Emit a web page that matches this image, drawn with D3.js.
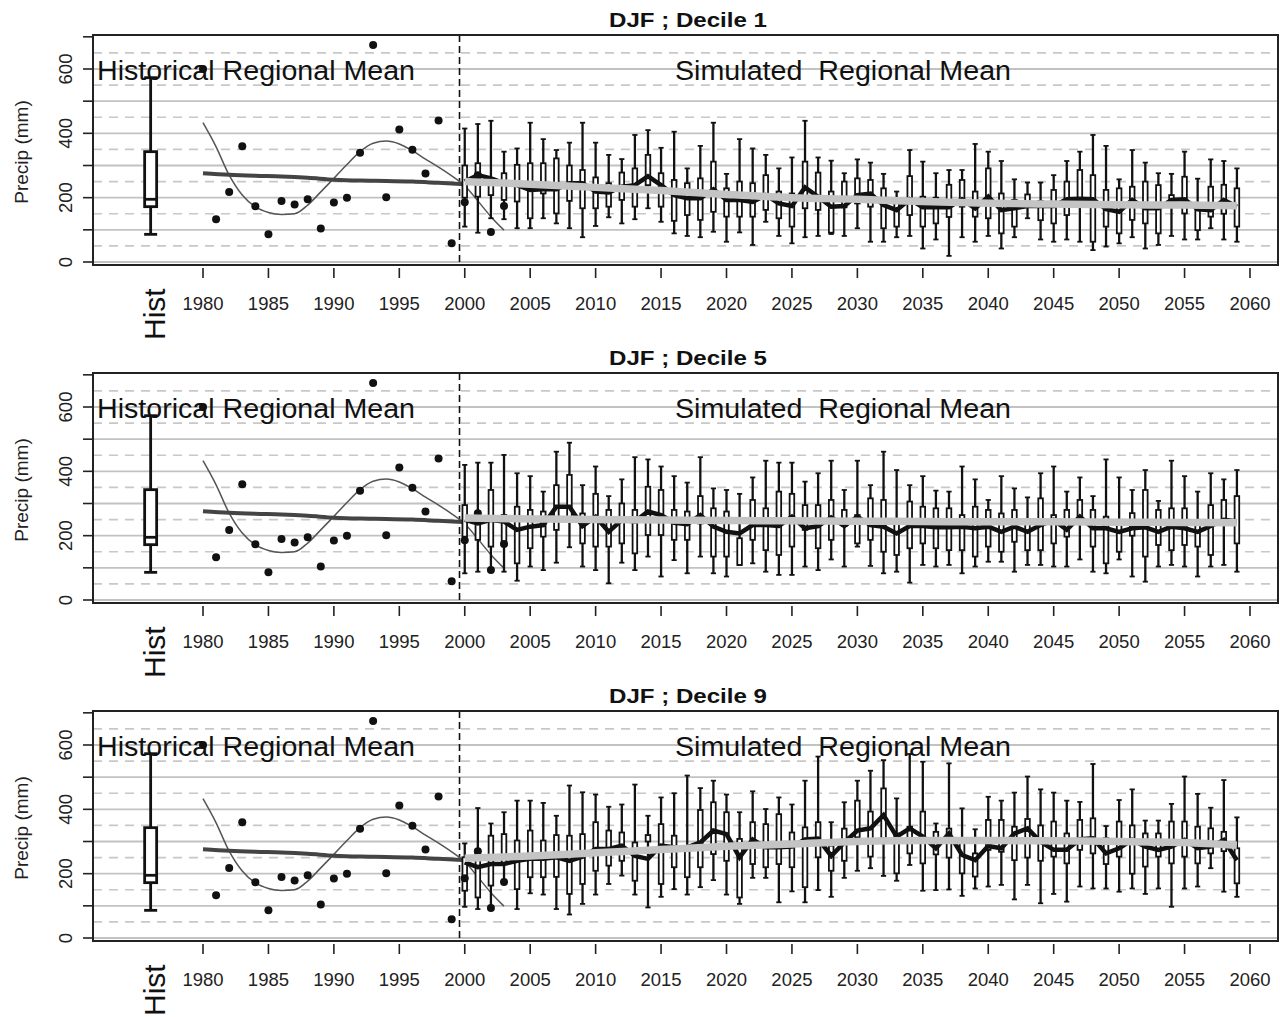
<!DOCTYPE html>
<html>
<head>
<meta charset="utf-8">
<script src="https://cdn.jsdelivr.net/npm/d3@7"></script>
<style>
body { margin: 0; background: #fff; }
svg { display: block; font-family: "Liberation Sans", Arial, sans-serif; }
</style>
</head>
<body>
<div id="chart"></div>
<script>
// historical observations (same station record in every panel)
const histYears = d3.range(1980, 2004);
const histObs = [600,133,218,360,173,86,190,179,195,104,185,200,340,675,201,412,349,275,440,58,186,270,93,174];
const histLowess = [433,358,270,208,171,154,148,150,177,218,260,303,343,369,376,367,346,320,295,268,237,190,141,99];
const histMeanYears = [1980,1982,1984,1986,1988,1990,1992,1994,1996,1998,2000];
const histMean = [276,271,268,266,262,256,253,252,250,246,242];
const histBox = { min: 86, q1: 172, med: 195, q3: 343, max: 573 };

// simulated years, one box per year
const simYears = d3.range(2000, 2060);
const smoothYears = [2000,2005,2010,2015,2020,2025,2030,2035,2040,2045,2050,2055,2059];

// Decile 1
const d1Max = [415,429,439,343,353,433,382,348,371,433, 371,333,320,395,410,355,405,291,361,433,
               274,382,353,333,291,325,439,325,315,276, 319,309,274,219,348,312,276,286,286,367,
               343,314,257,247,247,270,314,343,395,361, 257,348,309,276,274,343,259,319,314,291];
const d1Q3  = [300,307,250,276,302,307,307,322,300,286, 263,245,278,291,333,276,255,245,260,312,
               229,250,245,270,219,213,312,278,219,250, 260,255,229,195,267,203,200,240,255,219,
               291,213,193,210,190,224,250,286,270,224, 229,234,250,239,208,265,167,234,240,229];
const d1Q1  = [200,203,208,193,188,136,213,151,190,167, 167,172,193,172,239,172,128,146,131,156,
               141,141,141,162,136,110,167,162,91,170,  182,172,105,110,146,110,120,140,172,141,
               136,89,110,175,130,120,146,172,63,110,   89,131,120,89,172,151,99,141,150,110];
const d1Min = [110,91,136,133,105,105,136,120,105,77,   112,139,120,133,167,125,89,81,77,94,
               63,92,53,125,81,58,77,81,87,81,          105,63,63,77,81,42,70,19,77,63,
               81,42,77,136,70,63,70,63,37,48,          58,77,42,53,81,70,70,105,70,63];
const d1Mean = [250,270,260,245,239,224,226,226,245,245, 219,216,234,239,267,239,208,198,198,226,
                193,193,187,208,182,174,232,203,172,174, 208,213,177,161,195,170,170,170,195,167,
                203,161,167,174,174,174,195,197,195,164, 156,193,167,167,193,195,164,161,193,172];
const d1Smooth = [250,242,232,222,210,200,195,188,183,180,178,177,175];

// Decile 5
const d5Max = [420,427,427,451,394,385,337,461,489,357, 415,323,375,444,437,415,385,365,444,347,
               342,330,381,433,427,427,368,394,433,342, 433,357,461,404,357,385,340,337,415,375,
               311,385,347,319,394,415,337,381,323,437, 381,342,404,308,433,385,337,394,375,404];
const d5Q3  = [295,264,342,264,290,280,275,357,389,269, 330,280,300,280,352,342,280,275,323,285,
               275,192,311,285,337,330,295,295,311,280, 264,316,311,249,306,290,285,285,264,290,
               280,269,280,249,316,264,280,311,280,259, 244,270,342,280,285,285,249,295,311,323];
const d5Q1  = [197,187,166,171,114,161,197,218,249,176, 166,166,176,145,202,202,187,187,238,135,
               135,109,187,155,140,166,218,161,187,230, 176,187,150,140,161,176,161,155,155,135,
               166,150,181,155,155,176,197,249,166,114, 150,200,135,171,155,171,166,140,249,176];
const d5Min = [83,88,88,88,60,104,93,116,164,104,       93,52,116,93,135,73,124,83,135,83,
               73,109,114,88,78,78,104,93,126,104,      166,106,83,88,54,109,104,109,83,104,
               119,119,88,109,109,104,104,126,88,83,    126,73,57,104,109,104,73,104,109,88];
const d5Mean = [249,238,249,244,218,228,233,290,290,230, 259,212,249,244,275,264,240,236,264,228,
                212,207,233,233,230,259,223,230,257,230, 259,233,228,207,230,230,226,226,228,223,
                228,212,228,212,233,249,218,259,223,223, 212,223,226,212,228,223,212,230,249,244];
const d5Smooth = [255,252,250,249,247,246,245,244,243,243,242,241,240];

// Decile 9
const d9Max = [294,404,356,391,427,427,420,380,474,453, 446,408,415,477,380,437,450,505,466,489,
               446,391,456,401,437,415,489,564,360,422, 489,520,553,434,572,548,356,543,403,338,
               439,427,452,502,462,452,427,423,541,348, 429,462,365,365,417,502,448,405,491,375];
const d9Q3  = [251,272,318,323,303,334,303,320,318,323, 360,334,328,297,320,354,318,272,398,422,
               391,308,360,354,385,328,344,360,287,340, 427,393,465,325,346,393,330,340,305,263,
               367,367,346,370,350,362,325,367,372,310, 362,350,325,325,362,362,346,341,330,279];
const d9Q1  = [147,126,163,230,152,189,189,190,137,168, 209,225,240,178,300,168,220,189,220,261,
               240,126,230,220,230,220,158,251,209,240, 313,253,310,201,263,232,260,250,201,191,
               274,268,242,250,240,253,232,274,263,230, 253,200,222,253,232,253,232,263,270,170];
const d9Min = [97,90,95,173,90,139,135,90,73,106,       135,168,194,135,95,128,152,135,158,180,
               135,106,187,187,111,145,111,149,128,187, 209,217,193,178,227,147,149,151,131,154,
               160,165,120,165,108,137,113,160,154,154, 144,154,137,154,97,154,160,217,144,128];
const d9Mean = [235,220,230,230,240,246,246,251,240,253, 277,277,287,255,246,287,282,282,297,334,
                323,251,306,282,282,284,306,309,255,297, 334,341,382,315,341,315,279,325,258,242,
                286,279,325,341,299,274,274,307,310,263, 279,305,284,274,284,305,279,284,305,242];
const d9Smooth = [248,255,265,275,285,292,300,303,303,302,300,297,288];

const panelTitles = ["DJF ; Decile 1", "DJF ; Decile 5", "DJF ; Decile 9"];
const xTicks = d3.range(1980, 2061, 5);
const yTicks = d3.range(0, 701, 100);
const yLabels = [0, 200, 400, 600];
const solidGrid = d3.range(0, 601, 100);
const dashGrid = d3.range(50, 651, 100);

const width = 1280, height = 1017;
const frameL = 93, frameR = 1278;
const panelStep = 338;

const svg = d3.select("#chart").append("svg").attr("width", width).attr("height", height);
const x = d3.scaleLinear().domain([1980, 2060]).range([203, 1250]);

function drawPanel(p, sim){
    const off = p * panelStep;
    const y = d3.scaleLinear().domain([0, 600]).range([262 + off, 69 + off]);
    const top = 35 + off, bottom = 265 + off;
    const g = svg.append("g");

    // grid
    g.selectAll(".gs").data(solidGrid).join("line")
        .attr("x1", frameL).attr("x2", frameR).attr("y1", d => y(d)).attr("y2", d => y(d))
        .attr("stroke", "#c2c2c2").attr("stroke-width", 1.8);
    g.selectAll(".gd").data(dashGrid).join("line")
        .attr("x1", frameL).attr("x2", frameR).attr("y1", d => y(d)).attr("y2", d => y(d))
        .attr("stroke", "#c8c8c8").attr("stroke-width", 1.6).attr("stroke-dasharray", "9,7");

    // split line between observed and simulated
    g.append("line").attr("x1", x(1999.6)).attr("x2", x(1999.6)).attr("y1", top).attr("y2", bottom)
        .attr("stroke", "#111").attr("stroke-width", 1.6).attr("stroke-dasharray", "7,4");

    // labels inside plot
    g.append("text").attr("x", 97).attr("y", 80 + off).attr("font-size", 27).attr("fill", "#111")
        .attr("textLength", 318).attr("lengthAdjust", "spacingAndGlyphs")
        .text("Historical Regional Mean");
    g.append("text").attr("x", 675).attr("y", 80 + off).attr("font-size", 27).attr("fill", "#111")
        .attr("xml:space", "preserve").attr("textLength", 336).attr("lengthAdjust", "spacingAndGlyphs")
        .text("Simulated  Regional Mean");

    // hist boxplot
    const hx = x(1976);
    const hb = g.append("g").attr("stroke", "#111").attr("stroke-width", 2.8).attr("fill", "none");
    hb.append("line").attr("x1", hx).attr("x2", hx).attr("y1", y(histBox.max)).attr("y2", y(histBox.min));
    hb.append("line").attr("x1", hx - 6.5).attr("x2", hx + 6.5).attr("y1", y(histBox.max)).attr("y2", y(histBox.max));
    hb.append("line").attr("x1", hx - 6.5).attr("x2", hx + 6.5).attr("y1", y(histBox.min)).attr("y2", y(histBox.min));
    hb.append("rect").attr("x", hx - 6).attr("width", 12).attr("y", y(histBox.q3))
        .attr("height", y(histBox.q1) - y(histBox.q3)).attr("fill", "#fff");
    hb.append("line").attr("x1", hx - 6).attr("x2", hx + 6).attr("y1", y(histBox.med)).attr("y2", y(histBox.med));

    // historical smooth and mean lines
    g.append("path").datum(histYears.map((d, i) => [d, histLowess[i]]))
        .attr("d", d3.line().x(d => x(d[0])).y(d => y(d[1])).curve(d3.curveMonotoneX))
        .attr("fill", "none").attr("stroke", "#555").attr("stroke-width", 1.5);
    g.append("path").datum(histMeanYears.map((d, i) => [d, histMean[i]]))
        .attr("d", d3.line().x(d => x(d[0])).y(d => y(d[1])).curve(d3.curveMonotoneX))
        .attr("fill", "none").attr("stroke", "#444").attr("stroke-width", 4);

    // simulated boxplots
    const bw = 2.3;
    const bx = g.append("g").attr("stroke", "#111").attr("stroke-width", 1.8);
    simYears.forEach((yr, i) => {
        const cx = x(yr);
        bx.append("line").attr("x1", cx).attr("x2", cx).attr("y1", y(sim.max[i])).attr("y2", y(sim.min[i]))
            .attr("stroke-width", 2.3);
        bx.append("line").attr("x1", cx - 2.6).attr("x2", cx + 2.6).attr("y1", y(sim.max[i])).attr("y2", y(sim.max[i]));
        bx.append("line").attr("x1", cx - 2.6).attr("x2", cx + 2.6).attr("y1", y(sim.min[i])).attr("y2", y(sim.min[i]));
        bx.append("rect").attr("x", cx - bw).attr("width", bw * 2).attr("y", y(sim.q3[i]))
            .attr("height", y(sim.q1[i]) - y(sim.q3[i])).attr("fill", "#fff");
    });

    // observed points
    g.selectAll(".pt").data(histYears).join("circle")
        .attr("cx", d => x(d)).attr("cy", (d, i) => y(histObs[i])).attr("r", 4).attr("fill", "#111");

    // simulated annual mean and its smooth
    g.append("path").datum(simYears.map((d, i) => [d, sim.mean[i]]))
        .attr("d", d3.line().x(d => x(d[0])).y(d => y(d[1])))
        .attr("fill", "none").attr("stroke", "#111").attr("stroke-width", 4.5).attr("stroke-linejoin", "miter");
    g.append("path").datum(smoothYears.map((d, i) => [d, sim.smooth[i]]))
        .attr("d", d3.line().x(d => x(d[0])).y(d => y(d[1])).curve(d3.curveMonotoneX))
        .attr("fill", "none").attr("stroke", "#c4c4c4").attr("stroke-width", 7.5);

    // frame
    g.append("rect").attr("x", frameL).attr("y", top).attr("width", frameR - frameL).attr("height", bottom - top)
        .attr("fill", "none").attr("stroke", "#222").attr("stroke-width", 2);

    // title
    g.append("text").attr("x", 688).attr("y", 26.5 + off).attr("text-anchor", "middle")
        .attr("font-size", 20).attr("font-weight", "bold").attr("fill", "#111")
        .attr("textLength", 158).attr("lengthAdjust", "spacingAndGlyphs").text(panelTitles[p]);

    // y axis
    g.selectAll(".yt").data(yTicks).join("line")
        .attr("x1", 83).attr("x2", frameL).attr("y1", d => y(d)).attr("y2", d => y(d))
        .attr("stroke", "#222").attr("stroke-width", 1.6);
    g.selectAll(".yl").data(yLabels).join("text")
        .attr("transform", d => `translate(72,${y(d)}) rotate(-90)`).attr("text-anchor", "middle")
        .attr("font-size", 18.5).attr("fill", "#222").text(d => d);
    g.append("text").attr("transform", `translate(28,${152 + off}) rotate(-90)`).attr("text-anchor", "middle")
        .attr("font-size", 19).attr("fill", "#222").text("Precip (mm)");

    // x axis
    g.selectAll(".xt").data(xTicks).join("line")
        .attr("x1", d => x(d)).attr("x2", d => x(d)).attr("y1", 268 + off).attr("y2", 278 + off)
        .attr("stroke", "#222").attr("stroke-width", 1.6);
    g.selectAll(".xl").data(xTicks).join("text")
        .attr("x", d => x(d)).attr("y", 310 + off).attr("text-anchor", "middle")
        .attr("font-size", 18.5).attr("fill", "#222").text(d => d);
    g.append("text").attr("transform", `translate(165,${340 + off}) rotate(-90)`)
        .attr("font-size", 30).attr("fill", "#111").text("Hist");
}

drawPanel(0, {max: d1Max, q3: d1Q3, q1: d1Q1, min: d1Min, mean: d1Mean, smooth: d1Smooth});
drawPanel(1, {max: d5Max, q3: d5Q3, q1: d5Q1, min: d5Min, mean: d5Mean, smooth: d5Smooth});
drawPanel(2, {max: d9Max, q3: d9Q3, q1: d9Q1, min: d9Min, mean: d9Mean, smooth: d9Smooth});
</script>
</body>
</html>
